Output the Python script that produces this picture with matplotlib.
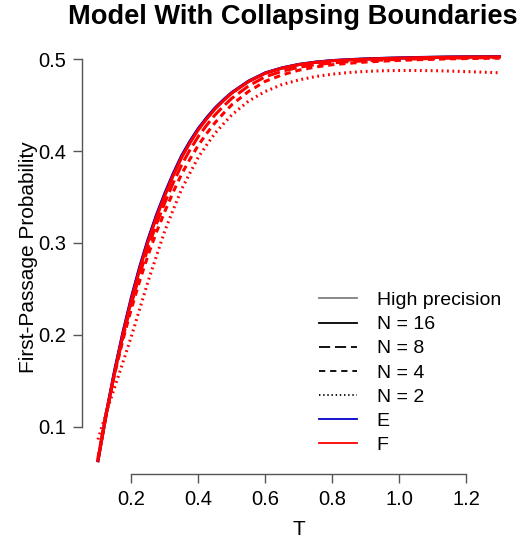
import matplotlib
matplotlib.use("Agg")
import matplotlib.pyplot as plt

plt.rcParams['font.family'] = ['Liberation Sans', 'DejaVu Sans']
plt.rcParams['lines.scale_dashes'] = False

# time grid
T = [0.100, 0.125, 0.150, 0.175, 0.200, 0.225, 0.250, 0.275, 0.300, 0.325, 0.350,
     0.375, 0.400, 0.425, 0.450, 0.475, 0.500, 0.55, 0.60, 0.65, 0.70, 0.75, 0.80,
     0.85, 0.90, 0.95, 1.00, 1.05, 1.10, 1.15, 1.20, 1.25, 1.30]

# high precision reference
hp = [0.0630, 0.1143, 0.1605, 0.2021, 0.2395, 0.2731, 0.3030, 0.3295, 0.3530, 0.3746, 0.3940,
      0.4099, 0.4240, 0.4358, 0.4465, 0.4554, 0.4635, 0.4760, 0.4850, 0.4905, 0.4943, 0.4968, 0.4985,
      0.4995, 0.5003, 0.5009, 0.5014, 0.5018, 0.5021, 0.5024, 0.5026, 0.5027, 0.5028]

# method E, N = 16
e16 = [0.0630, 0.1150, 0.1615, 0.2032, 0.2407, 0.2743, 0.3042, 0.3306, 0.3541, 0.3756, 0.3949,
       0.4107, 0.4247, 0.4364, 0.4470, 0.4558, 0.4638, 0.4762, 0.4852, 0.4906, 0.4944, 0.4969, 0.4986,
       0.4996, 0.5004, 0.5010, 0.5015, 0.5019, 0.5022, 0.5025, 0.5027, 0.5028, 0.5029]

# method F
f16 = [0.0630, 0.1136, 0.1595, 0.2010, 0.2383, 0.2719, 0.3018, 0.3284, 0.3519, 0.3736, 0.3931,
       0.4091, 0.4233, 0.4352, 0.4460, 0.4550, 0.4632, 0.4758, 0.4848, 0.4904, 0.4942, 0.4967, 0.4984,
       0.4994, 0.5002, 0.5008, 0.5013, 0.5017, 0.5020, 0.5023, 0.5025, 0.5026, 0.5027]
f8 = [0.0640, 0.1143, 0.1585, 0.1981, 0.2335, 0.2661, 0.2950, 0.3210, 0.3440, 0.3656, 0.3850,
      0.4014, 0.4160, 0.4283, 0.4395, 0.4489, 0.4575, 0.4710, 0.4810, 0.4870, 0.4913, 0.4941, 0.4961,
      0.4974, 0.4984, 0.4992, 0.4999, 0.5004, 0.5008, 0.5012, 0.5015, 0.5017, 0.5018]
f4 = [0.0660, 0.1153, 0.1575, 0.1951, 0.2285, 0.2591, 0.2870, 0.3120, 0.3345, 0.3556, 0.3750,
      0.3914, 0.4065, 0.4193, 0.4310, 0.4411, 0.4505, 0.4650, 0.4760, 0.4830, 0.4881, 0.4916, 0.4941,
      0.4957, 0.4970, 0.4980, 0.4988, 0.4995, 0.5000, 0.5005, 0.5008, 0.5010, 0.5012]
f2 = [0.0860, 0.1155, 0.1430, 0.1705, 0.1985, 0.2285, 0.2585, 0.2861, 0.3135, 0.3363, 0.3585,
      0.3763, 0.3935, 0.4068, 0.4195, 0.4297, 0.4395, 0.4545, 0.4650, 0.4725, 0.4775, 0.4812, 0.4838,
      0.4856, 0.4868, 0.4875, 0.4878, 0.4878, 0.4876, 0.4872, 0.4866, 0.4860, 0.4853]

xticks = [0.2, 0.4, 0.6, 0.8, 1.0, 1.2]
yticks = [0.1, 0.2, 0.3, 0.4, 0.5]

longdash = (0, (9, 3.5))
dash = (0, (4.5, 3.5))
dot = (0, (1.3, 2.6))

fig = plt.figure(figsize=(5.25, 5.42), dpi=100)
ax = fig.add_axes([0.156, 0.1255, 0.826, 0.800])

lw = 2.2
ax.plot(T, hp, color='#808080', lw=lw)
ax.plot(T, e16, color='#0000CC', lw=lw)
ax.plot(T, f16, color='#FF0000', lw=lw)
ax.plot(T, f8, color='#FF0000', lw=lw, linestyle=longdash)
ax.plot(T, f4, color='#FF0000', lw=lw, linestyle=dash)
ax.plot(T, f2, color='#FF0000', lw=lw, linestyle=dot)

ax.set_xlim(0.052, 1.348)
ax.set_ylim(0.0485, 0.5206)

# R-style axes
for s in ['top', 'right']:
    ax.spines[s].set_visible(False)
ax.spines['left'].set_bounds(0.1, 0.5)
ax.spines['bottom'].set_bounds(0.2, 1.2)
for s in ['left', 'bottom']:
    ax.spines[s].set_color('#555555')
    ax.spines[s].set_linewidth(1.0)
ax.set_xticks(xticks)
ax.set_xticklabels(['%.1f' % v for v in xticks])
ax.set_yticks(yticks)
ax.set_yticklabels(['%.1f' % v for v in yticks])
ax.tick_params(length=6.5, width=1.0, color='#555555', labelsize=14.5, pad=5)

ax.set_xlabel('T', fontsize=15, labelpad=8)
ax.set_ylabel('First-Passage Probability', fontsize=15, labelpad=0)
fig.suptitle('Model With Collapsing Boundaries', fontsize=19.6, fontweight='bold', x=0.557, y=0.993)

# legend
handles = [
    plt.Line2D([], [], color='#808080', lw=1.3),
    plt.Line2D([], [], color='black', lw=1.3),
    plt.Line2D([], [], color='black', lw=1.3, linestyle=(0, (8, 3.5))),
    plt.Line2D([], [], color='black', lw=1.3, linestyle=(0, (4.5, 3.5))),
    plt.Line2D([], [], color='black', lw=1.3, linestyle=(0, (1, 2))),
    plt.Line2D([], [], color='#0000CC', lw=1.3),
    plt.Line2D([], [], color='#FF0000', lw=1.3),
]
labels = ['High precision', 'N = 16', 'N = 8', 'N = 4', 'N = 2', 'E', 'F']
fig.legend(handles, labels, loc='upper left', bbox_to_anchor=(0.608, 0.462), frameon=False,
           fontsize=14, handlelength=1.96, handletextpad=1.0, labelspacing=0.335,
           borderaxespad=0, borderpad=0)

fig.savefig('out.png', dpi=100)
